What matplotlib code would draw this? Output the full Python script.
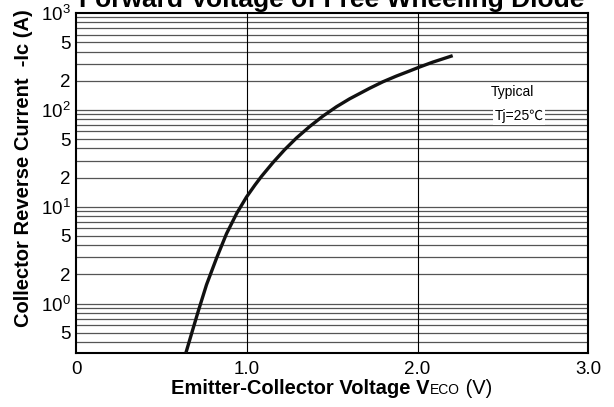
import matplotlib
matplotlib.use("Agg")
import matplotlib.pyplot as plt
from matplotlib.ticker import FixedLocator, NullFormatter
from matplotlib.offsetbox import TextArea, HPacker, AnchoredOffsetbox

plt.rcParams['font.family'] = ['Liberation Sans', 'DejaVu Sans']

# curve (V, A)
vf = [0.643, 0.682, 0.715, 0.764, 0.823, 0.881, 0.940, 0.998, 1.047, 1.086, 1.154,
      1.222, 1.291, 1.368, 1.446, 1.525, 1.602, 1.719, 1.797, 1.875,
      1.953, 2.012, 2.089, 2.206]
ic = [0.31, 0.53, 0.83, 1.57, 2.96, 5.27, 8.5, 12.6, 16.7, 20.6, 28.7,
      38.9, 51.3, 67.3, 86.3, 107.7, 130, 167, 195, 223,
      252, 277, 311, 363]

yticks = [0.5, 1, 2, 5, 10, 20, 50, 100, 200, 500, 1000]
ylabels = ['5', r'$\mathregular{10^0}$', '2', '5', r'$\mathregular{10^1}$', '2', '5',
           r'$\mathregular{10^2}$', '2', '5', r'$\mathregular{10^3}$']
xticks = [0, 1.0, 2.0, 3.0]
xlabels = ['0', '1.0', '2.0', '3.0']

fig = plt.figure(figsize=(6.14, 4.07), dpi=100)
ax = fig.add_axes([0.124, 0.133, 0.834, 0.835])

ax.set_yscale('log')
ax.set_xlim(0, 3.0)
ax.set_ylim(0.31, 1000)

# horizontal grid at every 1..9 step of each decade
for dec in [0.1, 1, 10, 100]:
    for m in range(1, 10):
        v = dec * m
        if 0.31 < v < 1000:
            ax.axhline(v, color='#555555', lw=0.9, zorder=1)
for xv in [1.0, 2.0]:
    ax.axvline(xv, color='black', lw=0.8, zorder=1)

ax.plot(vf, ic, color='#111111', lw=2.4, zorder=3, solid_capstyle='butt')

ax.yaxis.set_major_locator(FixedLocator(yticks))
ax.set_yticklabels(ylabels)
ax.yaxis.set_minor_formatter(NullFormatter())
ax.set_xticks(xticks)
ax.set_xticklabels(xlabels)
ax.tick_params(axis='both', which='both', length=0, labelsize=13.5, pad=6)
ax.tick_params(axis='y', pad=4)

for s in ax.spines.values():
    s.set_linewidth(1.5)

ax.text(2.556, 153, 'Typical', fontsize=10, ha='center', va='center', zorder=4,
        bbox=dict(facecolor='white', edgecolor='none', pad=1))
ax.text(2.596, 86, 'Tj=25\u2103', fontsize=10, ha='center', va='center', zorder=4,
        family=['Liberation Sans', 'Noto Sans CJK JP'],
        bbox=dict(facecolor='white', edgecolor='none', pad=1))

ax.set_ylabel('Collector Reverse Current  -Ic (A)', fontsize=14.5, fontweight='bold')
ax.yaxis.set_label_coords(-0.084, 0.544)

# x label with small-caps ECO
parts = [TextArea('Emitter-Collector Voltage V', textprops=dict(fontsize=14.5, fontweight='bold')),
         TextArea('ECO', textprops=dict(fontsize=10)),
         TextArea(' (V)', textprops=dict(fontsize=14.5))]
box = HPacker(children=parts, align='baseline', pad=0, sep=0)
anch = AnchoredOffsetbox(loc='center', child=box, frameon=False,
                         bbox_to_anchor=(0.54, 0.045), bbox_transform=fig.transFigure,
                         borderpad=0, pad=0)
fig.add_artist(anch)

fig.text(0.54, 0.983, 'Forward Voltage of Free Wheeling Diode', fontsize=19,
         fontweight='bold', ha='center', va='baseline')

fig.savefig('out.png', dpi=100)
